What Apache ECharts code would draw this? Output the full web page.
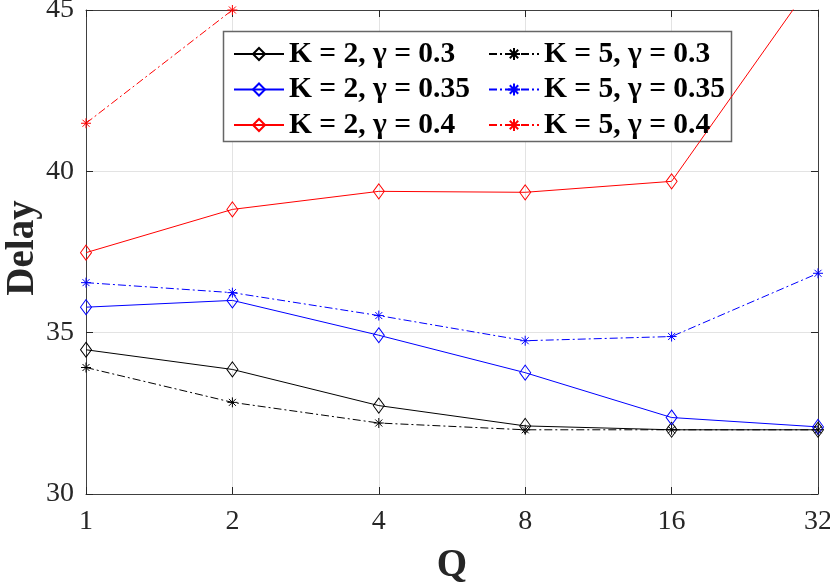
<!DOCTYPE html>
<html><head><meta charset="utf-8">
<script src="https://cdn.jsdelivr.net/npm/echarts@6/dist/echarts.min.js"></script>
<style>html,body{margin:0;padding:0;background:#fff}#c{width:830px;height:583px}</style>
</head><body><div id="c"></div>
<script>
const categories = ['1','2','4','8','16','32'];
const yTicks = [30, 35, 40, 45];
const k2g030 = [34.47, 33.86, 32.74, 32.11, 31.99, 31.99];
const k2g035 = [35.79, 36.0, 34.92, 33.76, 32.37, 32.08];
const k2g040 = [37.48, 38.82, 39.38, 39.35, 39.69, 46.1];
const k5g030 = [33.92, 32.84, 32.2, 31.99, 31.99, 31.99];
const k5g035 = [36.55, 36.24, 35.53, 34.75, 34.88, 36.84];
const k5g040 = [41.49, 45.0, 47.5, 49.0, 50.5, 53.0];
const names = ['K = 2, γ = 0.3','K = 2, γ = 0.35','K = 2, γ = 0.4','K = 5, γ = 0.3','K = 5, γ = 0.35','K = 5, γ = 0.4'];
const yTitle = 'Delay';
const xTitle = 'Q';

const FONT = '"Liberation Serif", "Times New Roman", serif';
const diamond = 'path://M0,-7L5,0L0,7L-5,0Z';
const star = 'path://M0,-1L0,1M-1,0L1,0M-0.7,-0.7L0.7,0.7M-0.7,0.7L0.7,-0.7';
const dashDot = [8,3,2,3];
function mk(name, data, color, isStar){
  return {
    name, type:'line', data, clip:true,
    symbol: isStar ? star : diamond,
    symbolSize: isStar ? [10,10] : [11,15],
    lineStyle:{color, width:1, type: isStar ? dashDot : 'solid'},
    itemStyle:{color:'rgba(0,0,0,0)', borderColor:color, borderWidth:1},
    emphasis:{disabled:true}, animation:false
  };
}
const series = [
  mk(names[0], k2g030, '#000000', false),
  mk(names[1], k2g035, '#0000ff', false),
  mk(names[2], k2g040, '#ff0000', false),
  mk(names[3], k5g030, '#000000', true),
  mk(names[4], k5g035, '#0000ff', true),
  mk(names[5], k5g040, '#ff0000', true)
];
const axisLine = {show:true, lineStyle:{color:'#404040', width:1}};
const legendCommon = {
  orient:'vertical', itemWidth:50, itemHeight:15, itemGap:3.5,
  textStyle:{fontFamily:FONT, fontWeight:'bold', fontSize:29.5, color:'#000', lineHeight:32},
  selectedMode:false, z:5
};
const chart = echarts.init(document.getElementById('c'));
chart.setOption({
  animation:false,
  backgroundColor:'#fff',
  grid:{left:86, right:12, top:10, bottom:89, containLabel:false, outerBoundsMode:'none'},
  graphic:[
    {type:'rect', z:3, shape:{x:223.5, y:31.5, width:508, height:110},
      style:{fill:'#fff', stroke:'#666', lineWidth:1.5}},
    {type:'text', z:5, x:23, y:248, rotation:Math.PI/2,
      style:{text:yTitle, fontFamily:FONT, fontWeight:'bold', fontSize:39, fill:'#262626',
        align:'center', verticalAlign:'middle'}}
  ],
  legend:[
    Object.assign({left:228, top:33, data:names.slice(0,3)}, legendCommon),
    Object.assign({left:483, top:33, data:names.slice(3,6)}, legendCommon)
  ],
  xAxis:[{
    type:'category', data:categories, boundaryGap:false,
    name:xTitle, nameLocation:'middle', nameGap:52,
    nameTextStyle:{fontFamily:FONT, fontWeight:'bold', fontSize:39, color:'#262626'},
    axisLine, axisTick:{show:true, inside:true, length:7, alignWithLabel:true, lineStyle:{color:'#262626'}},
    axisLabel:{fontFamily:FONT, fontSize:28, color:'#262626', margin:14},
    splitLine:{show:true, lineStyle:{color:'#e3e3e3', width:1}}
  },{
    type:'category', data:categories, boundaryGap:false, position:'top',
    axisLine, axisTick:{show:true, inside:true, length:7, lineStyle:{color:'#262626'}},
    axisLabel:{show:false}, splitLine:{show:false}
  }],
  yAxis:[{
    type:'value', min:30, max:45, interval:5,
    axisLine, axisTick:{show:true, inside:true, length:7, lineStyle:{color:'#262626'}},
    axisLabel:{fontFamily:FONT, fontSize:28, color:'#262626', margin:12,
      formatter: v => yTicks.includes(v) ? String(v) : ''},
    splitLine:{show:true, lineStyle:{color:'#e3e3e3', width:1}}
  },{
    type:'value', min:30, max:45, interval:5, position:'right',
    axisLine, axisTick:{show:true, inside:true, length:7, lineStyle:{color:'#262626'}},
    axisLabel:{show:false}, splitLine:{show:false}
  }],
  series
});
</script></body></html>
